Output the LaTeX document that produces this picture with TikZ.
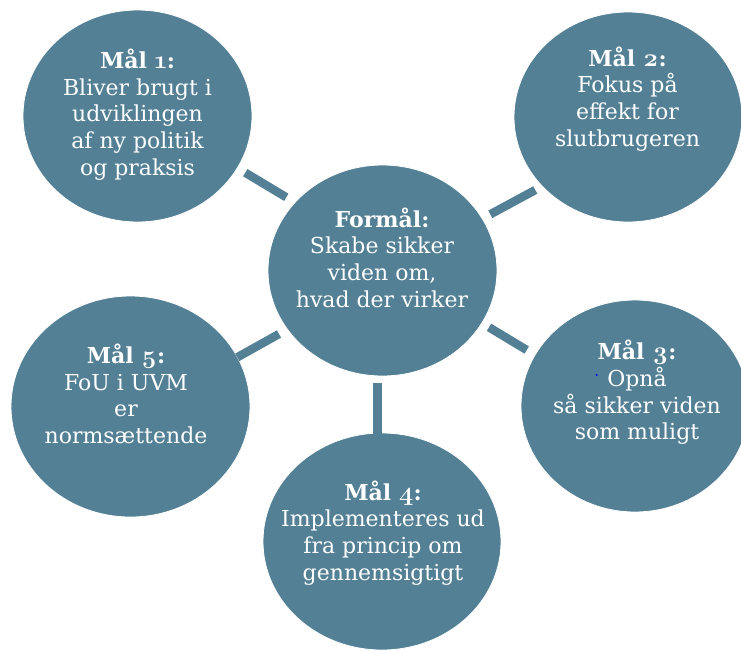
\documentclass[tikz,border=0pt]{standalone}
\usepackage{fontspec}
\setmainfont{DejaVu Serif}
\newfontfamily\osf{Latin Modern Roman}[Numbers=OldStyle,Scale=1.15]
\usetikzlibrary{shapes.geometric}
\definecolor{circfill}{RGB}{83,128,149}
\newcommand{\osnum}[1]{{\osf\bfseries #1}}
\begin{document}
\begin{tikzpicture}[x=1pt,y=-1pt,
  blob/.style={ellipse, fill=circfill, draw=white, line width=0.8pt, inner sep=0pt},
  txt/.style={text=white, align=center, font=\fontsize{22}{26.7}\selectfont, inner sep=0pt},
  bar/.style={draw=circfill, line width=8.5pt, line cap=butt}]
\useasboundingbox (0,0) rectangle (741,651);
\clip (0,0) rectangle (741,651);
\fill[white] (0,0) rectangle (741,651);

\node[blob, minimum width=229pt, minimum height=212pt] (m1) at (137.5,116) {};
\node[blob, minimum width=228pt, minimum height=210pt] (m2) at (628,117) {};
\node[blob, minimum width=229pt, minimum height=211pt] (c) at (382.5,270.5) {};
\node[blob, minimum width=228pt, minimum height=212pt] (m3) at (635,406) {};
\node[blob, minimum width=238pt, minimum height=217pt] (m4) at (382,541.5) {};
\node[blob, minimum width=239pt, minimum height=221pt] (m5) at (130.5,406.5) {};

\coordinate (b1a) at (245.3,172.7); \coordinate (b1b) at (286.3,197.3);
\coordinate (b2a) at (490.3,214.3); \coordinate (b2b) at (535.3,190);
\coordinate (b3a) at (489,327.3);   \coordinate (b3b) at (526.7,350);
\coordinate (b4a) at (377.5,383);   \coordinate (b4b) at (377.5,437);
\coordinate (b5a) at (237.3,357.3); \coordinate (b5b) at (279,334);
\draw[bar] (b1a) -- (b1b);
\draw[bar] (b2a) -- (b2b);
\draw[bar] (b3a) -- (b3b);
\draw[bar] (b4a) -- (b4b);
\draw[bar] (b5a) -- (b5b);

\node[txt] (t1) at (137.5,114.5) {\textbf{Mål \osnum{1}:}\\Bliver brugt i\\udviklingen\\af ny politik\\og praksis};
\node[txt] (t2) at (627.5,99) {\textbf{Mål \osnum{2}:}\\Fokus på\\effekt for\\slutbrugeren};
\node[txt] (tc) at (382,257.5) {\textbf{Formål:}\\Skabe sikker\\viden om,\\hvad der virker};
\node[txt] (t3) at (637,392.5) {\textbf{Mål \osnum{3}:}\\Opnå\\så sikker viden\\som muligt};
\node[txt] (t4) at (383,533) {\textbf{Mål \osnum{4}:}\\Implementeres ud\\fra princip om\\gennemsigtigt};
\node[txt] (t5) at (126,394) {\textbf{Mål \osnum{5}:}\\FoU i UVM\\er\\normsættende};
\fill[blue] (596.7,375) circle (1.1pt);
\end{tikzpicture}
\end{document}
